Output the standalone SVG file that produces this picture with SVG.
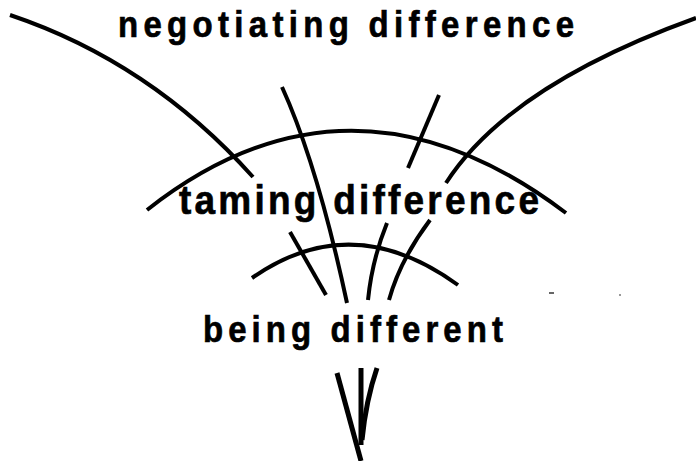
<svg xmlns="http://www.w3.org/2000/svg" width="696" height="461" viewBox="0 0 696 461">
<style>
.t{font-family:"Liberation Sans",Arial,sans-serif;font-weight:bold;fill:#000;stroke:#000;stroke-width:0.6}
.c{fill:none;stroke:#000;stroke-width:4;stroke-linecap:butt}
.b{fill:none;stroke:#000;stroke-width:5}
</style>
<rect width="696" height="461" fill="#fff"/>
<g id="connectors">
<path class="c" d="M10,15 Q150,62 253,177"/>
<path class="c" d="M696,18 Q509,85.5 446,183"/>
<path class="c" d="M147,210 Q350,50 566,213"/>
<path class="c" d="M282,87 Q317.5,165 347,303"/>
<path class="c" d="M439,95 L408,168"/>
<path class="c" d="M252,278 Q352,208 458,285"/>
<path class="c" d="M290,232 L326,295"/>
<path class="c" d="M387,223 Q372,260 368,300"/>
<path class="c" d="M430,220 Q400,260 389,300"/>
<path class="b" d="M337,373 L361,461"/>
<path class="b" d="M361,368 L361,445"/>
<path class="b" d="M377,368 Q366,400 362,440"/>
<rect x="549" y="292" width="5" height="2" fill="#666"/>
<rect x="619" y="294" width="2" height="2" fill="#999"/>
</g>
<g id="negotiating">
<text class="t" transform="translate(118,37) scale(1,1.12)" font-size="33" textLength="456" lengthAdjust="spacing">negotiating difference</text>
</g>
<g id="taming">
<text class="t" transform="translate(179,214) scale(1,1.12)" font-size="37" textLength="360" lengthAdjust="spacing">taming difference</text>
</g>
<g id="being">
<text class="t" transform="translate(203,342) scale(1,1.12)" font-size="33" textLength="300" lengthAdjust="spacing">being different</text>
</g>
</svg>
